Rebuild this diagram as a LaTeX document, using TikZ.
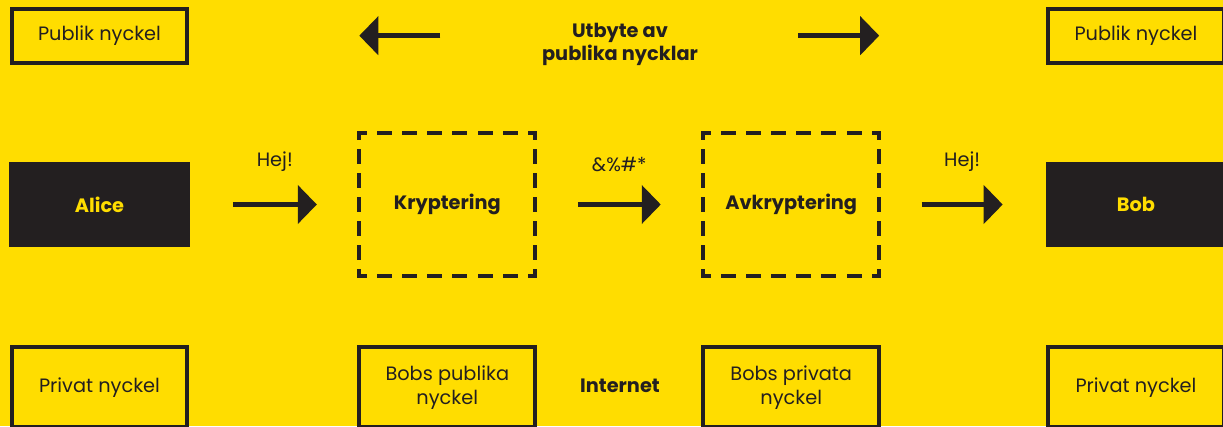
\documentclass[tikz,border=0pt]{standalone}
\usepackage{fontspec}
\setmainfont{Poppins}
\usetikzlibrary{arrows.meta,positioning}

\definecolor{signal}{HTML}{FFDD00}
\definecolor{ink}{HTML}{231F20}

\begin{document}
\begin{tikzpicture}[
    x=0.02cm, y=-0.02cm,
    font=\fontsize{11}{14}\selectfont,
    text=ink,
    keybox/.style={
        rectangle,
        draw=ink,
        line width=0.08cm,
        minimum width=3.52cm,
        minimum height=1.6cm,
        align=center
    },
    person/.style={
        rectangle,
        fill=ink,
        text=signal,
        minimum width=3.62cm,
        minimum height=1.7cm,
        font=\fontsize{11}{14}\selectfont\bfseries
    },
    process/.style={
        rectangle,
        outer sep=0pt,
        minimum width=3.52cm,
        minimum height=2.88cm,
        font=\fontsize{11}{14}\selectfont\bfseries
    },
    edge/.style={draw=ink, line width=0.08cm, line cap=rect, dash phase=0.11cm},
    flow/.style={-{Triangle[length=0.38cm, width=0.76cm]}, draw=ink, line width=0.09cm},
    hop/.style={flow, shorten <=0.85cm, shorten >=0.85cm},
    msg/.style={font=\fontsize{11}{14}\selectfont}
]

\useasboundingbox (0,0) rectangle (1223,426);
\clip (0,0) rectangle (1223,426);
\fill[signal] (0,0) rectangle (1223,426);

% middle row
\node[person] (alice) at (99.5,204.5) {Alice};
\node[process, right=3.38cm of alice] (kryp) {Kryptering};
\node[process, right=3.36cm of kryp] (avkr) {Avkryptering};
\node[person, right=3.32cm of avkr] (bob) {Bob};

% keys
\node[keybox, minimum height=1.08cm, above=1.94cm of alice] (pubA) {Publik nyckel};
\node[keybox, minimum height=1.08cm, above=1.94cm of bob] (pubB) {Publik nyckel};
\node[keybox, below=1.96cm of alice] (privA) {Privat nyckel};
\node[keybox, below=1.96cm of bob] (privB) {Privat nyckel};
\node[keybox, below=1.38cm of kryp] (bpub) {Bobs publika\\nyckel};
\node[keybox, below=1.38cm of avkr] (bpriv) {Bobs privata\\nyckel};

\node[font=\fontsize{11}{13}\selectfont\bfseries, align=center] (utbyte) at (620,44) {Utbyte av\\publika nycklar};
\node[font=\fontsize{11}{14}\selectfont\bfseries] (internet) at (620,386) {Internet};

% dashed frames, one side at a time
\foreach \n in {kryp,avkr} {
    \draw[edge, dash pattern=on 0.22cm off 0.283cm, dash phase=0.11cm] (\n.north west) -- (\n.north east);
    \draw[edge, dash pattern=on 0.22cm off 0.283cm, dash phase=0.11cm] (\n.south west) -- (\n.south east);
    \draw[edge, dash pattern=on 0.22cm off 0.26cm, dash phase=0.11cm] (\n.north west) -- (\n.south west);
    \draw[edge, dash pattern=on 0.22cm off 0.26cm, dash phase=0.11cm] (\n.north east) -- (\n.south east);
}

\draw[hop] (alice.east) -- node[midway, above=0.5cm, msg] {Hej!} (kryp.west);
\draw[hop] (kryp.east) -- node[midway, above=0.5cm, msg] {\&\%\#*} (avkr.west);
\draw[hop] (avkr.east) -- node[midway, above=0.5cm, msg] {Hej!} (bob.west);

\coordinate (xL) at (kryp.west |- pubA);
\coordinate (xR) at (avkr.east |- pubB);
\draw[flow] ([xshift=1.62cm]xL) -- (xL);
\draw[flow] ([xshift=-1.62cm]xR) -- (xR);

\end{tikzpicture}
\end{document}
